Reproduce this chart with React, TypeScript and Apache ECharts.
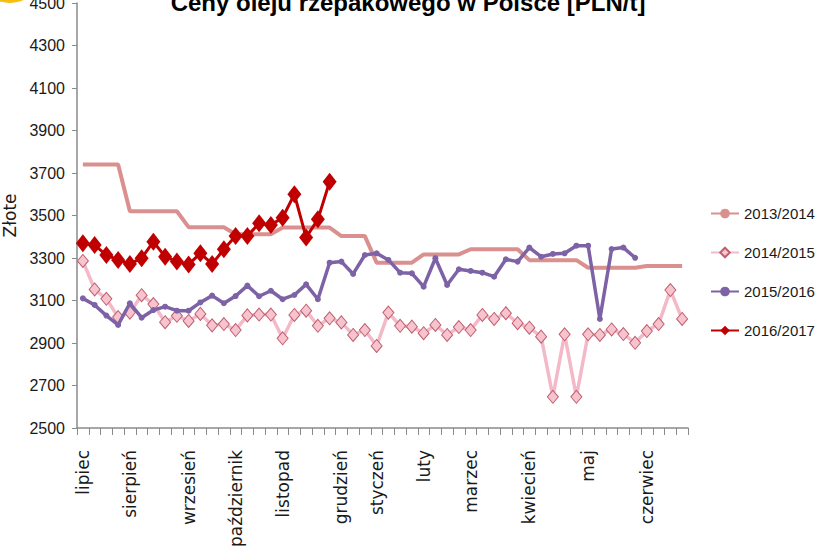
import React, { useEffect, useRef } from "react";
import * as echarts from "echarts";

const weeks: string[] = Array.from({ length: 52 }, (_, i) => String(i + 1));

const monthLabels: Record<number, string> = {
  0: "lipiec",
  4: "sierpień",
  9: "wrzesień",
  13: "październik",
  17: "listopad",
  22: "grudzień",
  25: "styczeń",
  29: "luty",
  33: "marzec",
  38: "kwiecień",
  43: "maj",
  48: "czerwiec",
};

const yTicks = { min: 2500, max: 4500, step: 200 };

const s1314: number[] = [
  3740, 3740, 3740, 3740, 3520, 3520, 3520, 3520, 3520, 3445, 3445, 3445, 3445,
  3412, 3412, 3412, 3412, 3443, 3443, 3443, 3443, 3443, 3403, 3403, 3403, 3278,
  3278, 3278, 3278, 3317, 3317, 3317, 3317, 3341, 3341, 3341, 3341, 3341, 3290,
  3290, 3290, 3290, 3290, 3254, 3254, 3254, 3254, 3254, 3262, 3262, 3262, 3262,
];

const s1415: number[] = [
  3286, 3152, 3108, 3022, 3043, 3125, 3083, 2998, 3028, 3004, 3037, 2983, 2989,
  2961, 3030, 3034, 3034, 2922, 3032, 3052, 2981, 3016, 2997, 2938, 2961, 2886,
  3043, 2981, 2977, 2946, 2985, 2938, 2975, 2961, 3032, 3013, 3040, 2993, 2972,
  2930, 2647, 2941, 2647, 2941, 2938, 2964, 2942, 2901, 2956, 2989, 3149, 3013,
];

const s1516: number[] = [
  3110, 3079, 3029, 2985, 3087, 3019, 3055, 3071, 3052, 3052, 3091, 3123, 3087,
  3121, 3170, 3120, 3146, 3106, 3126, 3176, 3106, 3278, 3283, 3225, 3314, 3322,
  3291, 3231, 3228, 3165, 3299, 3173, 3247, 3239, 3231, 3212, 3294, 3283, 3349,
  3306, 3319, 3322, 3358, 3358, 3013, 3342, 3349, 3301,
];

const s1617: number[] = [
  3369, 3361, 3314, 3291, 3272, 3299, 3377, 3306, 3283, 3270, 3322, 3272, 3341,
  3404, 3404, 3463, 3455, 3490, 3600, 3397, 3482, 3659,
];

const SANS = "'Liberation Sans', Arial, sans-serif";
const WIDE = "'DejaVu Sans', 'Liberation Sans', Arial, sans-serif";

export default function App() {
  const ref = useRef<HTMLDivElement>(null);

  useEffect(() => {
    if (!ref.current) return;
    const chart = echarts.init(ref.current, undefined, { renderer: "svg" });
    chart.setOption({
      animation: false,
      backgroundColor: "#ffffff",
      graphic: [
        {
          type: "circle",
          shape: { cx: 10, cy: -30, r: 33 },
          style: { fill: "#f5bf0c" },
          silent: true,
        },
        {
          type: "text",
          x: 408,
          y: 2,
          style: {
            text: "Ceny oleju rzepakowego w Polsce [PLN/t]",
            fontFamily: SANS,
            fontWeight: "bold",
            fontSize: 24,
            fill: "#000000",
            align: "center",
            verticalAlign: "middle",
          },
          silent: true,
        },
      ],
      grid: {
        left: 77,
        right: 128,
        top: 3,
        bottom: 130,
        containLabel: false,
        outerBoundsMode: "none",
      },
      legend: {
        orient: "vertical",
        left: 710,
        top: 206,
        padding: 0,
        itemGap: 24,
        itemWidth: 28,
        itemHeight: 12,
        textStyle: { fontFamily: SANS, fontSize: 15, color: "#1a1a1a" },
        data: ["2013/2014", "2014/2015", "2015/2016", "2016/2017"],
      },
      xAxis: {
        type: "category",
        data: weeks,
        boundaryGap: true,
        axisLine: { lineStyle: { color: "#8a8a8a", width: 1.5 } },
        axisTick: { show: true, interval: 0, length: 7, lineStyle: { color: "#8a8a8a" } },
        axisLabel: {
          interval: (index: number) => monthLabels[index] !== undefined,
          formatter: (_v: string, index: number) => monthLabels[index] ?? "",
          rotate: 90,
          margin: 22,
          fontFamily: WIDE,
          fontSize: 17,
          color: "#1a1a1a",
        },
        splitLine: { show: false },
      },
      yAxis: {
        type: "value",
        min: yTicks.min,
        max: yTicks.max,
        interval: yTicks.step,
        name: "Złote",
        nameLocation: "middle",
        nameRotate: 90,
        nameGap: 59,
        nameTextStyle: { fontFamily: WIDE, fontSize: 17, color: "#1a1a1a" },
        axisLine: { show: true, lineStyle: { color: "#8a8a8a", width: 1.5 } },
        axisTick: { show: true, length: 5, lineStyle: { color: "#8a8a8a" } },
        axisLabel: {
          margin: 12,
          fontFamily: SANS,
          fontSize: 16,
          color: "#1a1a1a",
          formatter: (v: number) => String(v),
        },
        splitLine: { show: false },
      },
      series: [
        {
          name: "2013/2014",
          type: "line",
          data: s1314,
          symbol: "none",
          color: "#d9908e",
          lineStyle: { color: "#d9908e", width: 4 },
          z: 2,
        },
        {
          name: "2014/2015",
          type: "line",
          data: s1415,
          symbol: "diamond",
          symbolSize: [11, 13],
          showAllSymbol: true,
          color: "#f6c3cf",
          itemStyle: { color: "#f6c3cf", borderColor: "#bf5f6d", borderWidth: 1 },
          lineStyle: { color: "#f4b9c9", width: 3.5 },
          z: 3,
        },
        {
          name: "2015/2016",
          type: "line",
          data: s1516,
          symbol: "circle",
          symbolSize: 6,
          showAllSymbol: true,
          color: "#7d62a6",
          itemStyle: { color: "#7d62a6" },
          lineStyle: { color: "#7d62a6", width: 3.5 },
          z: 4,
        },
        {
          name: "2016/2017",
          type: "line",
          data: s1617,
          symbol: "diamond",
          symbolSize: [14, 18],
          showAllSymbol: true,
          color: "#c00000",
          itemStyle: { color: "#c00000" },
          lineStyle: { color: "#c00000", width: 3 },
          z: 5,
        },
      ],
    });
    return () => chart.dispose();
  }, []);

  return (
    <div
      ref={ref}
      style={{ position: "fixed", left: 0, top: 0, width: 816, height: 558, background: "#fff" }}
    />
  );
}
